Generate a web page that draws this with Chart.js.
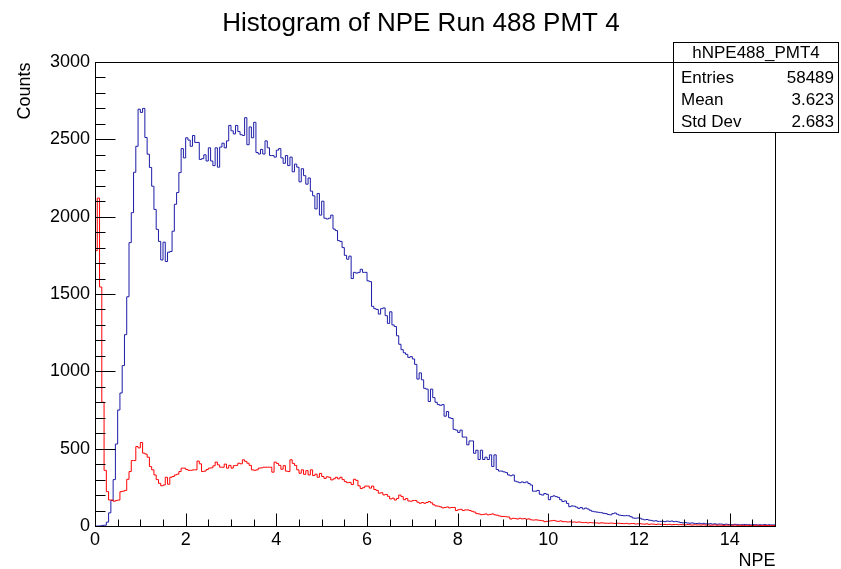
<!DOCTYPE html>
<html>
<head>
<meta charset="utf-8">
<script src="https://cdn.jsdelivr.net/npm/chart.js@4/dist/chart.umd.min.js"></script>
<style>
  body { margin: 0; background: #fff; }
</style>
</head>
<body>
<canvas id="hist" width="841" height="569"></canvas>
<script>
// bin width in NPE, 300 bins from 0 to 15
const binWidth = 0.05

// hNPE488_PMT4 counts per bin (blue)
const blueCounts = [
  0, 0, 0, 1, 4, 5, 25, 85, 165, 300,
  530, 750, 860, 1037, 1237, 1482, 1832, 2026, 2287, 2455,
  2695, 2674, 2700, 2512, 2404, 2318, 2197, 2047, 1918, 1840,
  1720, 1835, 1710, 1770, 1775, 1906, 2080, 2156, 2285, 2440,
  2380, 2510, 2495, 2455, 2525, 2480, 2480, 2370, 2375, 2400,
  2360, 2445, 2360, 2330, 2445, 2320, 2450, 2475, 2445, 2490,
  2590, 2555, 2535, 2590, 2550, 2530, 2525, 2640, 2465, 2580,
  2510, 2610, 2415, 2405, 2435, 2405, 2490, 2445, 2395, 2395,
  2385, 2430, 2440, 2380, 2345, 2395, 2330, 2385, 2290, 2340,
  2320, 2225, 2310, 2265, 2210, 2250, 2165, 2135, 2050, 2150,
  2010, 2100, 1990, 1985, 1990, 2010, 1920, 1910, 1845, 1840,
  1800, 1750, 1725, 1745, 1600, 1640, 1635, 1640, 1660, 1640,
  1640, 1585, 1580, 1420, 1405, 1400, 1370, 1405, 1410, 1360,
  1310, 1385, 1300, 1290, 1230, 1175, 1140, 1120, 1110, 1090,
  1095, 1080, 1045, 950, 990, 945, 890, 885, 805, 885,
  830, 800, 785, 780, 785, 710, 740, 700, 695, 625,
  620, 605, 620, 575, 575, 525, 550, 550, 470, 490,
  430, 490, 430, 445, 430, 460, 385, 460, 365, 355,
  355, 350, 345, 330, 325, 330, 290, 285, 280, 285,
  280, 285, 275, 265, 225, 225, 230, 205, 200, 210,
  205, 170, 190, 195, 190, 185, 170, 158, 162, 146,
  125, 130, 128, 122, 114, 120, 110, 116, 110, 102,
  95, 92, 90, 88, 86, 82, 80, 74, 72, 80,
  84, 76, 70, 68, 66, 67, 66, 60, 52, 50,
  52, 50, 44, 40, 42, 38, 36, 32, 34, 30,
  30, 30, 28, 32, 30, 32, 28, 30, 26, 22,
  20, 22, 19, 18, 20, 17, 16, 18, 15, 17,
  14, 13, 15, 12, 14, 11, 13, 12, 10, 12,
  9, 10, 8, 11, 9, 7, 8, 10, 9, 8,
  7, 9, 8, 6, 8, 7, 9, 6, 8, 7
]

// second histogram (red)
const redCounts = [
  880, 1780, 2120, 1545, 800, 360, 222, 168, 168, 160,
  165, 168, 222, 225, 230, 302, 352, 423, 423, 514,
  505, 540, 471, 465, 445, 384, 363, 330, 300, 276,
  260, 265, 315, 270, 315, 320, 330, 335, 352, 374,
  374, 365, 360, 360, 363, 363, 420, 402, 352, 355,
  365, 374, 376, 389, 413, 395, 380, 380, 400, 374,
  392, 374, 390, 392, 406, 402, 428, 418, 406, 392,
  363, 360, 363, 374, 376, 380, 380, 380, 380, 348,
  413, 405, 392, 367, 390, 355, 352, 428, 405, 392,
  363, 341, 363, 334, 358, 330, 363, 326, 335, 315,
  340, 320, 308, 318, 315, 298, 305, 315, 305, 315,
  300, 287, 280, 282, 268, 302, 295, 260, 242, 248,
  258, 258, 245, 258, 236, 230, 212, 215, 201, 204,
  192, 175, 180, 168, 178, 200, 190, 170, 178, 162,
  160, 165, 165, 154, 147, 152, 147, 152, 158, 150,
  137, 130, 128, 124, 117, 120, 123, 117, 120, 120,
  100, 105, 108, 100, 104, 104, 100, 95, 90, 80,
  78, 73, 75, 78, 72, 75, 78, 72, 70, 65,
  62, 62, 60, 58, 45, 50, 48, 45, 50, 46,
  48, 44, 46, 40, 38, 40, 38, 36, 34, 28,
  30, 32, 34, 36, 32, 30, 33, 28, 28, 26,
  27, 25, 26, 24, 26, 24, 22, 23, 20, 22,
  21, 20, 20, 18, 21, 19, 18, 17, 19, 18,
  16, 18, 17, 16, 15, 17, 14, 15, 16, 13,
  14, 15, 13, 12, 14, 11, 13, 12, 10, 12,
  11, 10, 10, 9, 11, 8, 9, 10, 8, 9,
  8, 7, 9, 8, 6, 8, 7, 7, 6, 8,
  6, 7, 5, 6, 7, 5, 6, 5, 4, 6,
  5, 4, 5, 6, 4, 5, 4, 3, 5, 4,
  4, 3, 4, 5, 3, 4, 3, 4, 3, 3
]

const xTicks = [0, 2, 4, 6, 8, 10, 12, 14]
const yTicks = [0, 500, 1000, 1500, 2000, 2500, 3000]

const titleText = "Histogram of NPE Run 488 PMT 4"
const xTitle = "NPE"
const yTitle = "Counts"
const statsName = "hNPE488_PMT4"
const statsRows = [
  ["Entries", "58489"],
  ["Mean", "3.623"],
  ["Std Dev", "2.683"]
]

const FONT = "'Liberation Sans', Arial, Helvetica, sans-serif"

// turn bin contents into step points at the bin edges
function toSteps(counts) {
  const pts = counts.map((c, i) => ({ x: i * binWidth, y: c }))
  pts.push({ x: counts.length * binWidth, y: counts[counts.length - 1] })
  return pts
}

// ROOT-like frame, inward ticks, titles and stats box
const rootStyle = {
  id: "rootStyle",
  afterDraw(chart) {
    const ctx = chart.ctx
    const a = chart.chartArea
    const xs = chart.scales.x
    const ys = chart.scales.y
    const L = Math.round(a.left) + 0.5
    const R = Math.round(a.right) + 0.5
    const T = Math.round(a.top) + 0.5
    const B = Math.round(a.bottom) + 0.5

    ctx.save()
    ctx.strokeStyle = "#000"
    ctx.lineWidth = 1
    ctx.strokeRect(L, T, R - L, B - T)

    ctx.beginPath()
    for (let v = 0; v <= 3000; v += 100) {
      const y = Math.round(ys.getPixelForValue(v)) + 0.5
      const len = v % 500 === 0 ? 20 : 10
      ctx.moveTo(L, y)
      ctx.lineTo(L + len, y)
    }
    for (let v = 0; v <= 15; v += 0.5) {
      const x = Math.round(xs.getPixelForValue(v)) + 0.5
      const len = v % 2 === 0 ? 13 : 7
      ctx.moveTo(x, B)
      ctx.lineTo(x, B - len)
    }
    ctx.stroke()

    ctx.fillStyle = "#000"
    ctx.font = "26px " + FONT
    ctx.textAlign = "center"
    ctx.textBaseline = "alphabetic"
    ctx.fillText(titleText, 421, 31)

    ctx.font = "18px " + FONT
    ctx.textAlign = "right"
    ctx.textBaseline = "middle"
    ctx.fillText(xTitle, R, 561)

    ctx.save()
    ctx.translate(25, T)
    ctx.rotate(-Math.PI / 2)
    ctx.textAlign = "right"
    ctx.fillText(yTitle, 0, 0)
    ctx.restore()

    // stats box
    const bx = 673.5, by = 42.5, bw = 165, bh = 90
    ctx.fillStyle = "#fff"
    ctx.fillRect(bx, by, bw, bh)
    ctx.strokeRect(bx, by, bw, bh)
    ctx.beginPath()
    ctx.moveTo(bx, 62.5)
    ctx.lineTo(bx + bw, 62.5)
    ctx.stroke()
    ctx.fillStyle = "#000"
    ctx.font = "17px " + FONT
    ctx.textAlign = "center"
    ctx.fillText(statsName, bx + bw / 2, 53)
    statsRows.forEach((row, i) => {
      const y = 78 + i * 22
      ctx.textAlign = "left"
      ctx.fillText(row[0], 681, y)
      ctx.textAlign = "right"
      ctx.fillText(row[1], 834, y)
    })
    ctx.restore()
  }
}

new Chart(document.getElementById("hist"), {
  type: "line",
  data: {
    datasets: [
      {
        label: "red",
        data: toSteps(redCounts),
        stepped: "after",
        borderColor: "#ff0000",
        borderWidth: 1,
        pointRadius: 0,
        fill: false
      },
      {
        label: statsName,
        data: toSteps(blueCounts),
        stepped: "after",
        borderColor: "#1c1ca8",
        borderWidth: 1,
        pointRadius: 0,
        fill: false
      }
    ]
  },
  options: {
    responsive: false,
    animation: false,
    events: [],
    layout: { padding: { left: 0, right: 66, top: 62, bottom: 0 } },
    scales: {
      x: {
        type: "linear",
        min: 0,
        max: 15,
        grid: { display: false, drawTicks: false, tickLength: 0 },
        border: { display: false },
        afterBuildTicks: (s) => { s.ticks = xTicks.map((v) => ({ value: v })) },
        afterFit: (s) => { s.height = 43 },
        ticks: {
          autoSkip: false,
          maxRotation: 0,
          padding: 3,
          color: "#000",
          font: { family: FONT, size: 18 },
          callback: (v) => String(v)
        }
      },
      y: {
        min: 0,
        max: 3000,
        grid: { display: false, drawTicks: false, tickLength: 0 },
        border: { display: false },
        afterBuildTicks: (s) => { s.ticks = yTicks.map((v) => ({ value: v })) },
        afterFit: (s) => { s.width = 95 },
        ticks: {
          padding: 5,
          color: "#000",
          font: { family: FONT, size: 18 },
          callback: (v) => String(v)
        }
      }
    },
    plugins: {
      legend: { display: false },
      tooltip: { enabled: false },
      title: { display: false }
    }
  },
  plugins: [rootStyle]
})
</script>
</body>
</html>
